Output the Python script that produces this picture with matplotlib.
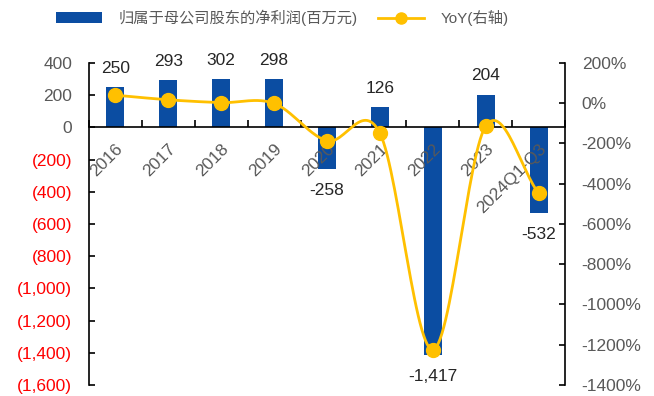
import numpy as np
import matplotlib
matplotlib.use("Agg")
import matplotlib.pyplot as plt
from matplotlib.ticker import FixedLocator

plt.rcParams['font.family'] = ['Liberation Sans', 'Noto Sans CJK SC', 'DejaVu Sans']

# Data
categories = ['2016', '2017', '2018', '2019', '2020', '2021', '2022', '2023', '2024Q1-Q3']
profit = [250, 293, 302, 298, -258, 126, -1417, 204, -532]
yoy = [40, 17, 3, -1, -187, -149, -1225, -114, -447]
left_ticks = [400, 200, 0, -200, -400, -600, -800, -1000, -1200, -1400, -1600]
right_ticks = [200, 0, -200, -400, -600, -800, -1000, -1200, -1400]

bar_color = '#0B4DA2'
line_color = '#FFC000'
grey = '#595959'
fs = 12.5


def smooth_path(xs, ys, n=30):
    # Catmull-Rom style smoothing, like a smoothed office line chart
    xs = np.asarray(xs, float)
    ys = np.asarray(ys, float)
    px = np.concatenate([[2 * xs[0] - xs[1]], xs, [2 * xs[-1] - xs[-2]]])
    py = np.concatenate([[2 * ys[0] - ys[1]], ys, [2 * ys[-1] - ys[-2]]])
    out_x, out_y = [], []
    t = np.linspace(0, 1, n)
    for i in range(1, len(px) - 2):
        for arr, out in ((px, out_x), (py, out_y)):
            p0, p1, p2, p3 = arr[i - 1], arr[i], arr[i + 1], arr[i + 2]
            seg = 0.5 * ((2 * p1) + (-p0 + p2) * t + (2 * p0 - 5 * p1 + 4 * p2 - p3) * t ** 2
                         + (-p0 + 3 * p1 - 3 * p2 + p3) * t ** 3)
            out.extend(seg)
    return np.array(out_x), np.array(out_y)


fig = plt.figure(figsize=(6.54, 3.96), dpi=100)
ax = fig.add_axes([0.136, 0.028, 0.728, 0.813])
x = np.arange(len(categories))

bars = ax.bar(x, profit, width=0.34, color=bar_color, zorder=2,
              label='归属于母公司股东的净利润(百万元)')
ax.set_xlim(-0.5, len(categories) - 0.5)
ax.set_ylim(-1600, 400)
ax.set_axisbelow(False)

for xi, v in zip(x, profit):
    if v >= 0:
        ax.annotate(f'{v:,}', (xi, v), xytext=(0, 8), textcoords='offset points',
                    ha='center', va='bottom', fontsize=fs, color='#262626')
    else:
        ax.annotate(f'{v:,}', (xi, v), xytext=(0, -10), textcoords='offset points',
                    ha='center', va='top', fontsize=fs, color='#262626')

# left axis
ax.yaxis.set_major_locator(FixedLocator(left_ticks))
ax.set_yticklabels([f'({abs(t):,})' if t < 0 else f'{t:,}' for t in left_ticks])
for lab, t in zip(ax.get_yticklabels(), left_ticks):
    lab.set_color('red' if t < 0 else grey)
ax.tick_params(axis='y', labelsize=fs, length=4, width=1.2, direction='in', pad=12)

# category axis at zero
ax.spines['top'].set_visible(False)
ax.spines['right'].set_visible(False)
ax.spines['bottom'].set_position(('data', 0))
ax.spines['bottom'].set_linewidth(1.2)
ax.spines['left'].set_linewidth(1.2)
ax.set_xticks(x)
ax.set_xticklabels(categories, rotation=45, ha='right', rotation_mode='anchor',
                   fontsize=fs, color=grey)
ax.tick_params(axis='x', which='major', length=0, pad=10)
ax.set_xticks(np.arange(len(categories) + 1) - 0.5, minor=True)
ax.tick_params(axis='x', which='minor', length=5, width=1.2, direction='in')

# right axis
ax2 = ax.twinx()
ax2.set_ylim(-1400, 200)
ax2.yaxis.set_major_locator(FixedLocator(right_ticks))
ax2.set_yticklabels([f'{t}%' for t in right_ticks])
ax2.tick_params(axis='y', labelsize=fs, labelcolor=grey, color='black',
                length=4, width=1.2, direction='in', pad=12)
ax2.spines['top'].set_visible(False)
ax2.spines['bottom'].set_visible(False)
ax2.spines['left'].set_visible(False)
ax2.spines['right'].set_linewidth(1.2)

sx, sy = smooth_path(x, yoy)
ax2.plot(sx, sy, color=line_color, lw=2, zorder=3)
ax2.plot(x, yoy, 'o', color=line_color, ms=10, zorder=4)
line_handle, = ax2.plot([], [], '-o', color=line_color, lw=2, ms=8, label='YoY(右轴)')

fig.legend(handles=[bars, line_handle], loc='upper left', bbox_to_anchor=(0.065, 1.01),
           ncol=2, frameon=False, fontsize=11, labelcolor=grey,
           handlelength=3.0, columnspacing=1.3, handletextpad=1.1)

fig.savefig('out.png', dpi=100)
